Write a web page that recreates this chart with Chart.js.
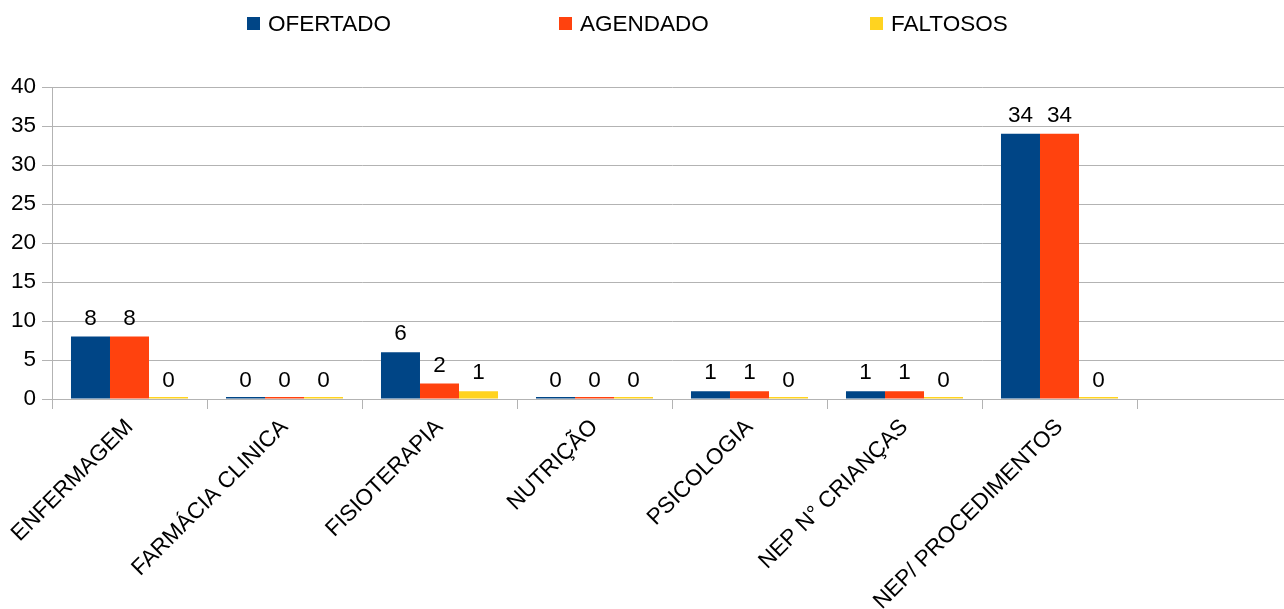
<!DOCTYPE html>
<html>
<head>
<meta charset="utf-8">
<script src="https://cdn.jsdelivr.net/npm/chart.js@4.4.1/dist/chart.umd.min.js"></script>
<style>
  html, body { margin: 0; padding: 0; background: #fff; overflow: hidden; }
  #wrap { width: 1292px; height: 609px; }
</style>
</head>
<body>
<div id="wrap"><canvas id="c" width="1292" height="609"></canvas></div>
<script>
const categories = ["ENFERMAGEM", "FARMÁCIA CLINICA", "FISIOTERAPIA", "NUTRIÇÃO", "PSICOLOGIA", "NEP N° CRIANÇAS", "NEP/ PROCEDIMENTOS", ""];
const ofertado = [8, 0, 6, 0, 1, 1, 34, null];
const agendado = [8, 0, 2, 0, 1, 1, 34, null];
const faltosos = [0, 0, 1, 0, 0, 0, 0, null];
const seriesNames = ["OFERTADO", "AGENDADO", "FALTOSOS"];
const seriesColors = ["#004586", "#ff420e", "#ffd320"];
const yTicks = [0, 5, 10, 15, 20, 25, 30, 35, 40];

const FONT = "'Liberation Sans', Arial, sans-serif";
const FS = 22.5;

const valueLabels = {
  id: 'valueLabels',
  afterDatasetsDraw(chart) {
    const ctx = chart.ctx;
    const y = chart.scales.y;
    ctx.save();
    ctx.font = FS + "px " + FONT;
    ctx.fillStyle = "#000";
    ctx.textAlign = "center";
    ctx.textBaseline = "middle";
    chart.data.datasets.forEach((ds, i) => {
      const meta = chart.getDatasetMeta(i);
      meta.data.forEach((el, j) => {
        const v = ds.data[j];
        if (v === null || v === undefined) return;
        ctx.fillText(String(v), el.x, y.getPixelForValue(v) - 18);
      });
    });
    ctx.restore();
  }
};

const topLegend = {
  id: 'topLegend',
  afterDraw(chart) {
    const ctx = chart.ctx;
    ctx.save();
    ctx.font = FS + "px " + FONT;
    ctx.textBaseline = "middle";
    ctx.textAlign = "left";
    const starts = [247, 559, 870];
    seriesNames.forEach((name, i) => {
      const x = starts[i];
      ctx.fillStyle = seriesColors[i];
      ctx.fillRect(x, 17, 13, 13);
      ctx.fillStyle = "#000";
      ctx.fillText(name, x + 21, 24.5);
    });
    ctx.restore();
  }
};

const datasets = [ofertado, agendado, faltosos].map((d, i) => ({
  label: seriesNames[i],
  data: d,
  backgroundColor: seriesColors[i],
  borderWidth: 0,
  minBarLength: 2,
  categoryPercentage: 0.755,
  barPercentage: 1.0
}));

new Chart(document.getElementById('c'), {
  type: 'bar',
  data: { labels: categories, datasets },
  options: {
    responsive: false,
    animation: false,
    devicePixelRatio: 1,
    layout: { padding: { top: 87, left: 0, right: 0, bottom: 0 } },
    plugins: { legend: { display: false }, tooltip: { enabled: false } },
    scales: {
      x: {
        offset: true,
        grid: { offset: true, drawOnChartArea: false, drawTicks: true, tickLength: 10, color: "#b3b3b3", lineWidth: 1 },
        border: { display: true, color: "#b3b3b3" },
        ticks: { minRotation: 45, maxRotation: 45, autoSkip: false, color: "#000", font: { family: FONT, size: FS }, padding: 5 },
        afterFit(scale) { scale.height = 210; }
      },
      y: {
        min: 0, max: 40,
        afterBuildTicks(scale) { scale.ticks = yTicks.map(v => ({ value: v })); },
        grid: { color: "#b3b3b3", lineWidth: 1, tickLength: 10 },
        border: { display: true, color: "#b3b3b3" },
        ticks: { color: "#000", font: { family: FONT, size: FS }, padding: 6 },
        afterFit(scale) { scale.width = 52; }
      }
    }
  },
  plugins: [valueLabels, topLegend]
});
</script>
</body>
</html>
